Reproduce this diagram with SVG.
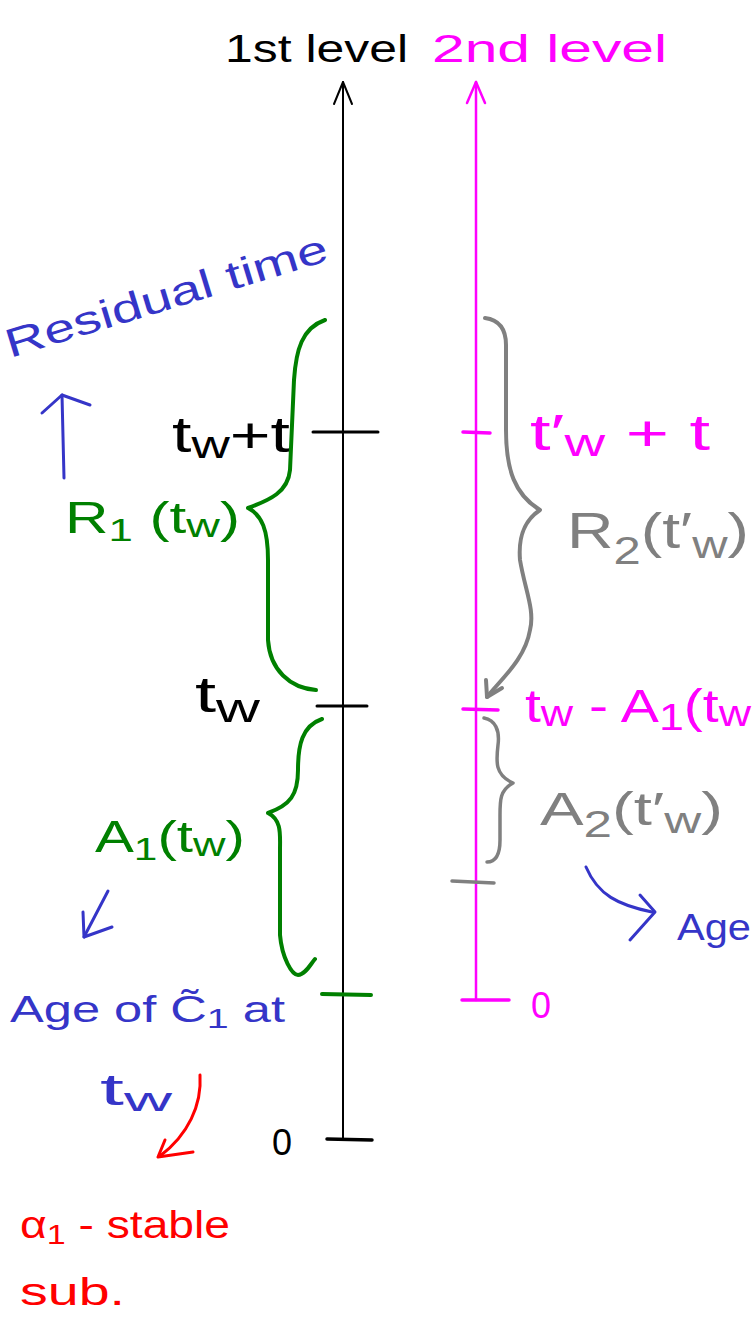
<svg xmlns="http://www.w3.org/2000/svg" width="753" height="1317" viewBox="0 0 753 1317">
<style>
text{font-family:"Liberation Sans","DejaVu Sans",sans-serif;}
.k{fill:#000}.m{fill:#ff00ff}.g{fill:#008000}.gr{fill:#808080}.b{fill:#3535c8}.r{fill:#ff0000}
.ln{fill:none;stroke-linecap:round;stroke-linejoin:round}
.sk{stroke:#000}.sm{stroke:#ff00ff}.sg{stroke:#008000}.sgr{stroke:#808080}.sb{stroke:#3535c8}.sr{stroke:#ff0000}
</style>
<rect width="753" height="1317" fill="#fff"/>
<g id="axis1">
  <line class="ln sk" x1="343" y1="1139" x2="343" y2="82" stroke-width="2"/>
  <polyline class="ln sk" points="334,104 343,82 352,104" stroke-width="2"/>
  <line class="ln sk" x1="313" y1="432" x2="378" y2="432" stroke-width="3"/>
  <line class="ln sk" x1="317" y1="706" x2="367" y2="706" stroke-width="3"/>
  <line class="ln sk" x1="327" y1="1139" x2="372" y2="1140" stroke-width="3.5"/>
  <line class="ln sg" x1="322" y1="994" x2="371" y2="995" stroke-width="4"/>
  <text class="k" x="225" y="62" font-size="38" textLength="183" lengthAdjust="spacingAndGlyphs">1st level</text>
  <text class="k" x="272" y="1155" font-size="36">0</text>
</g>
<g id="axis2">
  <line class="ln sm" x1="476" y1="1000" x2="476" y2="82" stroke-width="2.5"/>
  <polyline class="ln sm" points="467,103 476,82 485,103" stroke-width="2.5"/>
  <line class="ln sm" x1="463" y1="432" x2="490" y2="433" stroke-width="3.5"/>
  <line class="ln sm" x1="463" y1="709" x2="498" y2="710" stroke-width="3.5"/>
  <line class="ln sm" x1="462" y1="1000" x2="509" y2="1000" stroke-width="3.5"/>
  <line class="ln sgr" x1="452" y1="881" x2="494" y2="883" stroke-width="3.5"/>
  <text class="m" x="432" y="62" font-size="38" textLength="235" lengthAdjust="spacingAndGlyphs">2nd level</text>
  <text class="m" x="531" y="1018" font-size="36">0</text>
</g>
<g id="residual-time">
  <text class="b" font-size="40" transform="translate(10,358) rotate(-17)" textLength="335" lengthAdjust="spacingAndGlyphs">Residual time</text>
</g>
<g id="tw-plus-t">
  <text class="k" x="172" y="452" font-size="50" textLength="118" lengthAdjust="spacingAndGlyphs">t<tspan font-size="38" dy="6">w</tspan><tspan dy="-6">+t</tspan></text>
</g>
<g id="tw">
  <text class="k" x="195" y="712" font-size="50" textLength="65" lengthAdjust="spacingAndGlyphs">t<tspan font-size="40" dy="10">w</tspan></text>
</g>
<g id="R1">
  <path class="ln sg" stroke-width="4" d="M325,320 C302,328 296,350 294,380 L290,470 C288,492 270,500 248,508 C262,515 268,530 268,560 L268,640 C270,670 290,688 316,690"/>
  <text class="g" x="65" y="533" font-size="44" textLength="175" lengthAdjust="spacingAndGlyphs">R<tspan font-size="32" dy="8">1</tspan><tspan dy="-8"> (t</tspan><tspan font-size="34" dy="4">w</tspan><tspan dy="-4">)</tspan></text>
</g>
<g id="A1">
  <path class="ln sg" stroke-width="4" d="M322,719 C302,726 298,745 298,770 C298,795 290,805 268,813 C282,820 280,835 280,850 L280,935 C282,958 292,975 298,975 C305,975 310,965 315,959"/>
  <text class="g" x="95" y="852" font-size="44" textLength="150" lengthAdjust="spacingAndGlyphs">A<tspan font-size="32" dy="8">1</tspan><tspan dy="-8">(t</tspan><tspan font-size="34" dy="4">w</tspan><tspan dy="-4">)</tspan></text>
</g>
<g id="tw2-plus-t">
  <text class="m" x="530" y="450" font-size="50" textLength="180" lengthAdjust="spacingAndGlyphs">t′<tspan font-size="38" dy="6">w</tspan><tspan dy="-6"> + t</tspan></text>
</g>
<g id="R2">
  <path class="ln sgr" stroke-width="4" d="M485,318 C500,320 506,330 506,345 L506,430 C506,470 515,495 540,510 C525,520 518,535 520,560 C525,590 535,610 530,630 C525,660 500,680 487,697"/>
  <polyline class="ln sgr" stroke-width="4" points="486,680 487,697 502,688"/>
  <text class="gr" x="567" y="548" font-size="50" textLength="182" lengthAdjust="spacingAndGlyphs">R<tspan font-size="38" dy="16">2</tspan><tspan dy="-16">(t′</tspan><tspan font-size="38" dy="10">w</tspan><tspan dy="-10">)</tspan></text>
</g>
<g id="tw-minus-A1">
  <text class="m" x="525" y="722" font-size="46" textLength="226" lengthAdjust="spacingAndGlyphs">t<tspan font-size="36" dy="4">w</tspan><tspan dy="-4"> - A</tspan><tspan font-size="36" dy="8">1</tspan><tspan dy="-8">(t</tspan><tspan font-size="36" dy="4">w</tspan></text>
</g>
<g id="A2">
  <path class="ln sgr" stroke-width="3.5" d="M484,718 C495,720 500,730 498,745 C496,762 495,775 513,783 C500,790 500,800 500,815 L500,840 C500,855 495,862 487,862"/>
  <text class="gr" x="540" y="825" font-size="46" textLength="183" lengthAdjust="spacingAndGlyphs">A<tspan font-size="36" dy="12">2</tspan><tspan dy="-12">(t′</tspan><tspan font-size="36" dy="8">w</tspan><tspan dy="-8">)</tspan></text>
</g>
<g id="age">
  <text class="b" x="677" y="940" font-size="36" textLength="74" lengthAdjust="spacingAndGlyphs">Age</text>
</g>
<g id="age-of-C1">
  <text class="b" x="10" y="1022" font-size="36" textLength="275" lengthAdjust="spacingAndGlyphs">Age of C̃<tspan font-size="28" dy="6">1</tspan><tspan dy="-6"> at</tspan></text>
  <text class="b" x="100" y="1105" font-size="44" textLength="72" lengthAdjust="spacingAndGlyphs">t<tspan font-size="34" dy="6">w</tspan></text>
</g>
<g id="alpha-stable">
  <text class="r" x="20" y="1238" font-size="38" textLength="210" lengthAdjust="spacingAndGlyphs">α<tspan font-size="28" dy="6">1</tspan><tspan dy="-6"> - stable</tspan></text>
  <text class="r" x="20" y="1305" font-size="38" textLength="105" lengthAdjust="spacingAndGlyphs">sub.</text>
</g>
<g id="connectors">
  <line class="ln sb" x1="64" y1="478" x2="62" y2="395" stroke-width="3"/>
  <polyline class="ln sb" points="42,413 62,395 90,405" stroke-width="3"/>
  <line class="ln sb" x1="108" y1="891" x2="84" y2="937" stroke-width="3"/>
  <polyline class="ln sb" points="83,912 84,937 112,927" stroke-width="3"/>
  <path class="ln sb" stroke-width="3" d="M586,867 C598,895 618,905 652,912"/>
  <polyline class="ln sb" points="640,895 655,912 630,940" stroke-width="3"/>
  <path class="ln sr" stroke-width="3" d="M200,1075 C202,1105 188,1135 160,1156"/>
  <polyline class="ln sr" points="165,1140 158,1157 193,1152" stroke-width="3"/>
</g>
</svg>
